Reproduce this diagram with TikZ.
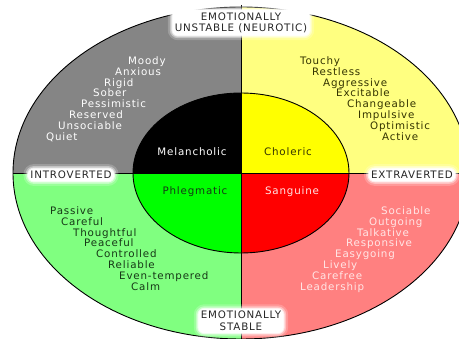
\documentclass[tikz,border=0pt]{standalone}
\usepackage{fontspec}
\newfontfamily\lab[LetterSpace=8]{DejaVu Sans}
\definecolor{outgray}{HTML}{858585}
\definecolor{outyellow}{HTML}{FFFF80}
\definecolor{outgreen}{HTML}{80FF80}
\definecolor{outred}{HTML}{FF8080}
\definecolor{ingreen}{HTML}{00FF00}
\definecolor{inred}{HTML}{FF0000}
\definecolor{inyellow}{HTML}{FFFF00}
\definecolor{olive}{HTML}{333300}
\definecolor{dgreen}{HTML}{163816}
\definecolor{pinkw}{HTML}{FFE6E6}
\begin{document}
\begin{tikzpicture}[x=1pt,y=-1pt,
  word/.style={font=\lab\fontsize{10.3}{11}\selectfont, anchor=west, inner sep=0pt, text height=7pt, text depth=2pt},
  temp/.style={font=\lab\fontsize{10.3}{11}\selectfont, inner sep=0pt},
  glow/.style={font=\lab\fontsize{10.3}{11.5}\selectfont, align=center, inner sep=2.5pt, fill=white, rounded corners=6pt,
    text=black!85,
    preaction={draw=white, line width=9pt, opacity=0.2},
    preaction={draw=white, line width=5pt, opacity=0.4},
    preaction={draw=white, line width=2pt, opacity=0.7}},
  rim/.style={draw=black, line width=0.9pt}]
\useasboundingbox (0,0) rectangle (459,339);
\clip (0,0) rectangle (459,339);
\coordinate (c) at (241,173);
% outer quadrants
\begin{scope}
  \clip (c) ellipse [x radius=228, y radius=166];
  \fill[outgray] (c) rectangle (0,0);
  \fill[outyellow] (c) rectangle (480,0);
  \fill[outgreen] (c) rectangle (0,345);
  \fill[outred] (c) rectangle (480,345);
\end{scope}
% inner quadrants
\begin{scope}
  \clip (c) ellipse [x radius=108, y radius=80];
  \fill[black] (c) rectangle (0,0);
  \fill[inyellow] (c) rectangle (480,0);
  \fill[ingreen] (c) rectangle (0,345);
  \fill[inred] (c) rectangle (480,345);
\end{scope}
\draw[rim] (c) ellipse [x radius=228, y radius=166];
\draw[rim] (c) ellipse [x radius=108, y radius=80];
\coordinate (top) at (241,5);
\coordinate (bot) at (241,341);
\coordinate (lft) at (13,173);
\coordinate (rgt) at (470,173);
\draw[rim] (top) -- (bot);
\draw[rim] (lft) -- (rgt);
% axis labels
\node[glow] (unst) at (241,23) {EMOTIONALLY\\UNSTABLE (NEUROTIC)};
\node[glow] (intro) at (71,175) {INTROVERTED};
\node[glow] (extra) at (412,175) {EXTRAVERTED};
\node[glow] (stab) at (241,321) {EMOTIONALLY\\STABLE};
% temperaments
\node[temp, text=white] (mel) at (192,152) {Melancholic};
\node[temp, text=olive] (cho) at (288,152) {Choleric};
\node[temp, text=dgreen] (phl) at (195,192) {Phlegmatic};
\node[temp, text=pinkw] (san) at (292,192) {Sanguine};
% traits
\foreach \t/\x/\y [count=\i] in {Moody/128/62, Anxious/115/72.8, Rigid/104/83.6, Sober/93/94.4, Pessimistic/81/105.2, Reserved/69/116, Unsociable/58/126.8, Quiet/46/137.6}
  \node[word, text=white] (g\i) at (\x,\y) {\t};
\foreach \t/\x/\y [count=\i] in {Touchy/300/62, Restless/312/72.8, Aggressive/323/83.6, Excitable/336/94.4, Changeable/347/105.2, Impulsive/358/116, Optimistic/370/126.8, Active/382/137.6}
  \node[word, text=olive] (y\i) at (\x,\y) {\t};
\foreach \t/\x/\y [count=\i] in {Passive/50/212, Careful/61/222.8, Thoughtful/73/233.6, Peaceful/84/244.4, Controlled/96/255.2, Reliable/108/266, Even-tempered/119/276.8, Calm/131/287.6}
  \node[word, text=dgreen] (gr\i) at (\x,\y) {\t};
\foreach \t/\x/\y [count=\i] in {Sociable/381/212, Outgoing/369/222.8, Talkative/357/233.6, Responsive/346/244.4, Easygoing/335/255.2, Lively/323/266, Carefree/312/276.8, Leadership/300/287.6}
  \node[word, text=pinkw] (r\i) at (\x,\y) {\t};
\end{tikzpicture}
\end{document}
